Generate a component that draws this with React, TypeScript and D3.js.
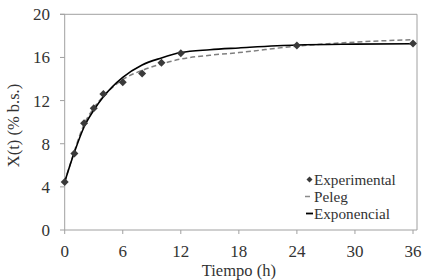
import React from "react";
import * as d3 from "d3";

const expTime = [0, 1, 2, 3, 4, 6, 8, 10, 12, 24, 36];
const expValues = [4.45, 7.1, 9.9, 11.3, 12.6, 13.7, 14.5, 15.5, 16.4, 17.1, 17.3];

const modelTime = [0, 1, 2, 3, 4, 6, 8, 10, 12, 15, 18, 24, 30, 36];
const pelegValues = [4.45, 7.3, 9.8, 11.3, 12.4, 13.95, 14.8, 15.4, 15.85, 16.2, 16.45, 17.05, 17.42, 17.65];
const exponValues = [4.45, 7.2, 9.55, 11.1, 12.35, 14.15, 15.3, 15.95, 16.45, 16.72, 16.88, 17.15, 17.23, 17.27];

const xTicks = [0, 6, 12, 18, 24, 30, 36];
const yTicks = [0, 4, 8, 12, 16, 20];

const legendLabels = ["Experimental", "Peleg", "Exponencial"];

export default function App() {
  const W = 429, H = 280;
  const x = d3.scaleLinear().domain([0, 36]).range([64.7, 413]);
  const y = d3.scaleLinear().domain([0, 20]).range([230, 14.3]);
  const right = 417;
  const ts = { fontFamily: '"Liberation Serif"' };
  const textColor = "#333";
  const axisColor = "#a0a0a0";

  const line = d3
    .line<[number, number]>()
    .x((d) => x(d[0]))
    .y((d) => y(d[1]))
    .curve(d3.curveMonotoneX);

  const pelegPath = line(modelTime.map((t, i) => [t, pelegValues[i]]) as [number, number][]) || "";
  const exponPath = line(modelTime.map((t, i) => [t, exponValues[i]]) as [number, number][]) || "";

  const diamond = (cx: number, cy: number, r: number) =>
    `M${cx},${cy - r}L${cx + r},${cy}L${cx},${cy + r}L${cx - r},${cy}Z`;

  const legX = 314;
  const legY = [179.5, 196.5, 213.5];

  return (
    <svg
      width={W}
      height={H}
      style={{ position: "absolute", left: 0, top: 0, background: "#fff" }}
    >
      <rect x={0} y={0} width={W} height={H} fill="#fff" />
      {/* frame */}
      <line x1={60} x2={right} y1={y(20)} y2={y(20)} stroke={axisColor} strokeWidth={1} />
      <line x1={right} x2={right} y1={y(20)} y2={y(0)} stroke={axisColor} strokeWidth={1} />
      {/* y axis */}
      <line x1={x(0)} x2={x(0)} y1={y(20)} y2={y(0)} stroke={axisColor} strokeWidth={1} />
      {yTicks.map((t) => (
        <g key={"y" + t}>
          <line x1={60} x2={x(0)} y1={y(t)} y2={y(t)} stroke={axisColor} />
          <text
            x={50}
            y={y(t)}
            dy="0.35em"
            textAnchor="end"
            fontSize={17}
            fill={textColor}
            style={ts}
          >
            {t}
          </text>
        </g>
      ))}
      {/* x axis */}
      <line x1={x(0)} x2={right} y1={y(0)} y2={y(0)} stroke={axisColor} strokeWidth={1} />
      {xTicks.map((t) => (
        <g key={"x" + t}>
          <line x1={x(t)} x2={x(t)} y1={y(0)} y2={y(0) + 4} stroke={axisColor} />
          <text x={x(t)} y={256.5} textAnchor="middle" fontSize={17} fill={textColor} style={ts}>
            {t}
          </text>
        </g>
      ))}
      <text x={(x(0) + x(36)) / 2} y={276} textAnchor="middle" fontSize={16.5} fill={textColor} style={ts}>
        Tiempo (h)
      </text>
      <text
        transform={`translate(19,${125.5}) rotate(-90)`}
        textAnchor="middle"
        fontSize={16.5}
        fill={textColor}
        style={ts}
      >
        X(t) (% b.s.)
      </text>

      {/* curves */}
      <path d={pelegPath} fill="none" stroke="#7f7f7f" strokeWidth={1.5} strokeDasharray="5,3" />
      <path d={exponPath} fill="none" stroke="#000" strokeWidth={1.6} />
      {expTime.map((t, i) => (
        <path key={"p" + i} d={diamond(x(t), y(expValues[i]), 4)} fill="#3a3a3a" />
      ))}

      {/* legend */}
      <path d={diamond(309.5, legY[0], 3)} fill="#3a3a3a" />
      <line x1={305} x2={310} y1={legY[1]} y2={legY[1]} stroke="#8a8a8a" strokeWidth={1.5} />
      <line x1={306} x2={313} y1={legY[2]} y2={legY[2]} stroke="#000" strokeWidth={1.8} />
      {legendLabels.map((l, i) => (
        <text key={l} x={legX} y={legY[i]} dy="0.35em" fontSize={15.2} fill={textColor} style={ts}>
          {l}
        </text>
      ))}
    </svg>
  );
}
